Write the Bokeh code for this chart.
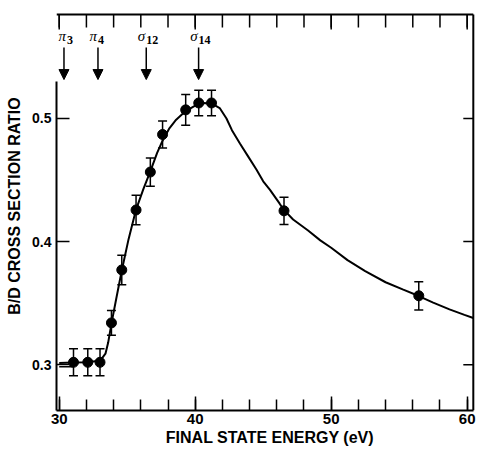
import math
from bokeh.plotting import figure
from bokeh.models import (LinearAxis, FixedTicker, Whisker, TeeHead, Arrow, NormalHead,
                          ColumnDataSource, Range1d, LabelSet)
from bokeh.embed import file_html
from bokeh.resources import INLINE

# ---- data ----
pts_x = [31.05, 32.1, 33.0, 33.84, 34.6, 35.65, 36.7, 37.6, 39.3, 40.26, 41.2, 46.53, 56.44]
pts_y = [0.302, 0.302, 0.302, 0.334, 0.377, 0.4257, 0.4565, 0.487, 0.507, 0.5126, 0.5126, 0.425, 0.356]
pts_err = [0.011, 0.011, 0.011, 0.010, 0.012, 0.012, 0.0115, 0.011, 0.0125, 0.0103, 0.0103, 0.011, 0.0115]

curve_x = [30.0, 31.0, 32.0, 32.8, 33.1, 33.4, 33.6, 33.85, 34.2, 34.6, 35.1, 35.65, 36.2, 36.7,
           37.2, 37.6, 38.1, 38.6, 39.3, 40.0, 40.6, 41.2, 41.8, 42.3, 42.7, 43.3, 43.9, 44.5,
           45.0, 45.5, 46.2, 46.5, 47.2, 48.3, 49.2, 50.0, 51.2, 52.5, 54.0, 55.3, 56.4, 57.5,
           58.7, 59.8, 60.45]
curve_y = [0.3015, 0.3018, 0.3020, 0.3030, 0.3045, 0.3090, 0.3180, 0.3340, 0.3540, 0.3765,
           0.4020, 0.4260, 0.4430, 0.4570, 0.4720, 0.4820, 0.4920, 0.4990, 0.5060, 0.5105,
           0.5125, 0.5122, 0.5085, 0.5000, 0.4905, 0.4795, 0.4690, 0.4585, 0.4490, 0.4420,
           0.4310, 0.4260, 0.4180, 0.4090, 0.4010, 0.3950, 0.3850, 0.3760, 0.3670, 0.3610,
           0.3560, 0.3505, 0.3450, 0.3405, 0.3380]

base_x = [30.0, 31.0]
base_y = [0.2983, 0.2983]

arrow_x = [30.35, 32.85, 36.4, 40.25]
arrow_sym = ["π", "π", "σ", "σ"]
arrow_sub = ["3", "4", "12", "14"]

x_ticks = [30, 40, 50, 60]
x_minor = list(range(30, 62, 2))
y_ticks = [0.3, 0.4, 0.5]

x_label = "FINAL STATE ENERGY (eV)"
y_label = "B/D CROSS SECTION RATIO"

# ---- figure ----
X0, X1 = 29.8, 61.2
Y0, Y1 = 0.26285, 0.5950
BOX_TOP, BOX_RIGHT = 0.5845, 60.45

p = figure(width=484, height=450, x_range=Range1d(X0, X1), y_range=Range1d(Y0, Y1),
           output_backend="svg", toolbar_location=None,
           min_border_left=56, min_border_right=1, min_border_top=1, min_border_bottom=40)
p.grid.visible = False
p.outline_line_color = None
p.background_fill_color = "white"
p.border_fill_color = "white"

FONT = "Liberation Sans"

xa = p.xaxis[0]
xa.ticker = FixedTicker(ticks=x_ticks, minor_ticks=x_minor)
xa.bounds = (X0, BOX_RIGHT)
xa.major_tick_in = 14
xa.major_tick_out = 0
xa.minor_tick_in = 11
xa.minor_tick_out = 0
xa.axis_line_width = 2
xa.major_tick_line_width = 1.5
xa.minor_tick_line_width = 1.5
xa.major_label_text_font = FONT
xa.major_label_text_font_style = "bold"
xa.major_label_text_font_size = "15px"
xa.major_label_text_color = "black"
xa.major_label_standoff = 3
xa.axis_label = x_label
xa.axis_label_text_font = FONT
xa.axis_label_text_font_style = "bold"
xa.axis_label_text_font_size = "16px"
xa.axis_label_text_color = "black"
xa.axis_label_standoff = 2

ya = p.yaxis[0]
ya.ticker = FixedTicker(ticks=y_ticks, minor_ticks=[])
ya.bounds = (Y0, 0.53)
ya.major_tick_in = 13
ya.major_tick_out = 0
ya.minor_tick_line_color = None
ya.axis_line_width = 2
ya.major_tick_line_width = 1.5
ya.major_label_text_font = FONT
ya.major_label_text_font_style = "bold"
ya.major_label_text_font_size = "14px"
ya.major_label_text_color = "black"
ya.major_label_standoff = 5

# outer left axis only carries the title, centred where the reference puts it
ylab = LinearAxis(ticker=FixedTicker(ticks=[], minor_ticks=[]), bounds=(0.338, 0.53),
                  axis_line_color=None, major_tick_line_color=None, minor_tick_line_color=None,
                  major_label_text_font_size="1px", major_label_standoff=0,
                  major_tick_out=0, major_tick_in=0, minor_tick_out=0, minor_tick_in=0,
                  axis_label=y_label, axis_label_text_font=FONT,
                  axis_label_text_font_style="bold", axis_label_text_font_size="16px",
                  axis_label_text_color="black", axis_label_standoff=7)
p.add_layout(ylab, "left")

# top and right box lines, well inside the frame, with inward ticks
p.line([X0, BOX_RIGHT], [BOX_TOP, BOX_TOP], line_color="black", line_width=2)
p.line([BOX_RIGHT, BOX_RIGHT], [Y0, BOX_TOP], line_color="black", line_width=2)
p.ray(x=x_minor, y=[BOX_TOP] * len(x_minor), length=13, length_units="screen",
      angle=-math.pi / 2, line_color="black", line_width=1.5)
p.ray(x=x_ticks, y=[BOX_TOP] * len(x_ticks), length=15, length_units="screen",
      angle=-math.pi / 2, line_color="black", line_width=1.5)
p.ray(x=[BOX_RIGHT] * len(y_ticks), y=y_ticks, length=10, length_units="screen",
      angle=math.pi, line_color="black", line_width=1.5)

# curve
p.line(curve_x, curve_y, line_color="black", line_width=2)
p.line(base_x, base_y, line_color="black", line_width=1.5)

# error bars and points
src = ColumnDataSource(dict(x=pts_x, y=pts_y,
                            upper=[a + b for a, b in zip(pts_y, pts_err)],
                            lower=[a - b for a, b in zip(pts_y, pts_err)]))
p.add_layout(Whisker(source=src, base="x", upper="upper", lower="lower", dimension="height",
                     line_color="black", line_width=1.5,
                     upper_head=TeeHead(size=9, line_width=1.5, line_color="black"),
                     lower_head=TeeHead(size=9, line_width=1.5, line_color="black")))
p.scatter("x", "y", source=src, size=10, marker="circle", fill_color="black", line_color="black")

# arrows and state labels
ay_start = 0.5577
ay_end = 0.5316
asrc = ColumnDataSource(dict(x0=arrow_x, y0=[ay_start] * len(arrow_x),
                             x1=arrow_x, y1=[ay_end] * len(arrow_x),
                             sym=arrow_sym, sub=arrow_sub,
                             ly=[0.5670] * len(arrow_x),
                             dx_sym=[2, -1, -1, -1], dx_sub=[3, 0, 0, 0]))
p.add_layout(Arrow(source=asrc, x_start="x0", y_start="y0", x_end="x1", y_end="y1",
                   line_width=1.5, line_color="black",
                   end=NormalHead(size=10, fill_color="black", line_color="black", line_width=1)))
p.add_layout(LabelSet(x="x0", y="ly", text="sym", source=asrc, text_font="DejaVu Serif",
                      text_font_style="italic", text_font_size="15px", text_align="right",
                      text_baseline="middle", x_offset="dx_sym", text_color="black"))
p.add_layout(LabelSet(x="x0", y="ly", text="sub", source=asrc, text_font=FONT,
                      text_font_style="bold", text_font_size="12px", text_align="left",
                      text_baseline="middle", x_offset="dx_sub", y_offset=-4,
                      text_color="black"))

open("out.html", "w").write(file_html(p, INLINE))
